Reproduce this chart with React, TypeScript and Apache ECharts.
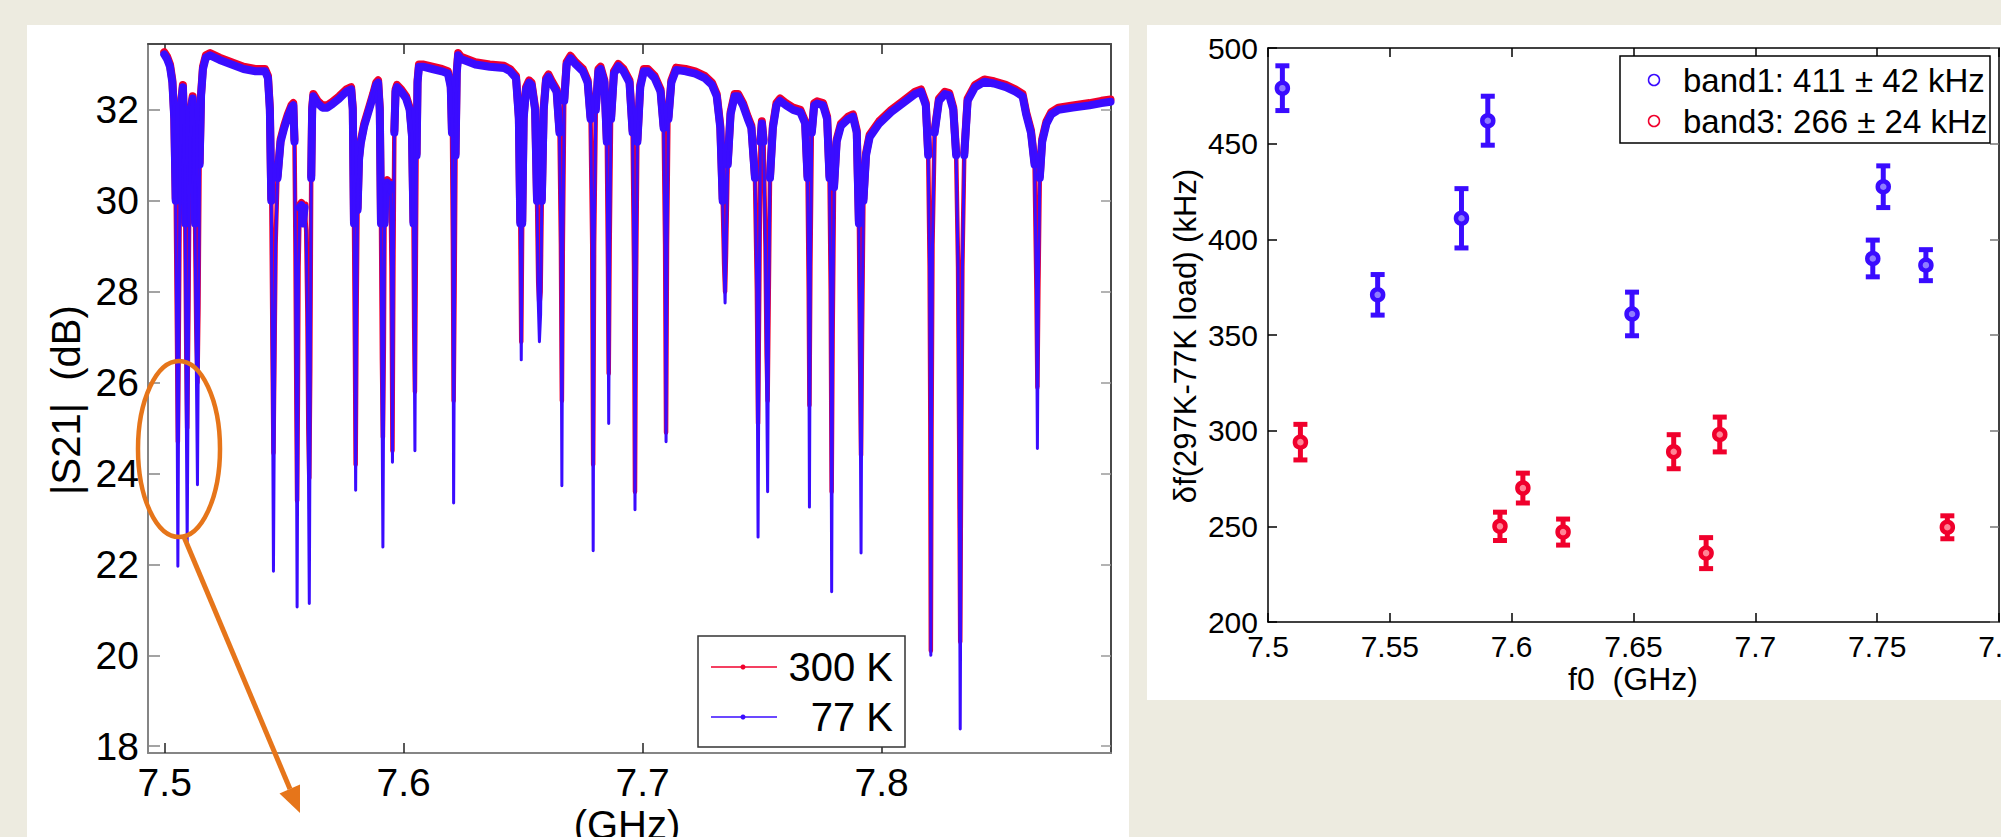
import React, { useEffect, useRef } from "react";
import * as echarts from "echarts";

// ---------------- data ----------------
// |S21| trace at 77 K: [frequency GHz, dB]
const trace77K: [number, number][] = [
  [7.4998, 33.22], [7.5010, 33.12], [7.5022, 32.95], [7.5032, 32.6], [7.5040, 31.8], [7.5046, 30.0], [7.5051, 26.5], [7.5055, 21.96], [7.5059, 26.5], [7.5064, 30.8], [7.5070, 32.2], [7.5076, 32.5],
  [7.5081, 31.6], [7.5086, 29.5], [7.5090, 25.5], [7.5094, 22.5], [7.5098, 26.0], [7.5104, 30.5], [7.5110, 32.0], [7.5117, 32.25],
  [7.5122, 31.6], [7.5127, 29.5], [7.5132, 26.5], [7.5137, 23.75], [7.5141, 27.0], [7.5146, 30.8], [7.5152, 32.3], [7.5160, 32.9], [7.5172, 33.15], [7.5190, 33.2],
  [7.5230, 33.1], [7.5280, 33.0], [7.5330, 32.9], [7.5380, 32.85], [7.5420, 32.85], [7.5432, 32.7], [7.5440, 32.0], [7.5446, 30.0], [7.5451, 26.0], [7.5455, 21.85], [7.5459, 25.5], [7.5464, 29.0], [7.5472, 30.5], [7.5485, 31.3], [7.5500, 31.6], [7.5515, 31.85], [7.5530, 32.05], [7.5538, 32.1],
  [7.5543, 31.3], [7.5547, 29.0], [7.5551, 25.0], [7.5554, 21.06], [7.5557, 25.0], [7.5560, 28.5], [7.5565, 29.85], [7.5572, 29.9], [7.5578, 29.5], [7.5585, 29.85], [7.5592, 29.3], [7.5597, 27.5], [7.5601, 24.5], [7.5605, 21.14], [7.5609, 26.0], [7.5613, 30.5], [7.5617, 32.0], [7.5622, 32.3],
  [7.5640, 32.15], [7.5660, 32.05], [7.5680, 32.05], [7.5700, 32.12], [7.5730, 32.25], [7.5760, 32.4], [7.5780, 32.45],
  [7.5787, 32.0], [7.5792, 29.5], [7.5796, 26.5], [7.5799, 23.63], [7.5803, 27.5], [7.5807, 29.8], [7.5813, 30.9], [7.5820, 31.25], [7.5835, 31.65], [7.5855, 32.0], [7.5872, 32.3], [7.5885, 32.55], [7.5893, 32.6],
  [7.5900, 32.0], [7.5905, 29.5], [7.5909, 26.0], [7.5913, 22.38], [7.5917, 26.5], [7.5920, 29.5], [7.5924, 30.35], [7.5931, 30.4], [7.5938, 30.2], [7.5945, 30.35], [7.5949, 28.5], [7.5953, 24.25], [7.5957, 28.5], [7.5961, 31.5], [7.5966, 32.4], [7.5972, 32.5],
  [7.5990, 32.4], [7.6010, 32.25], [7.6025, 32.0], [7.6035, 31.4], [7.6041, 29.5], [7.6044, 27.0], [7.6047, 24.5], [7.6050, 28.0], [7.6054, 31.0], [7.6058, 32.6], [7.6064, 32.95],
  [7.6080, 32.95], [7.6120, 32.9], [7.6160, 32.85], [7.6185, 32.8], [7.6197, 32.5], [7.6202, 31.5], [7.6206, 29.0], [7.6209, 23.35], [7.6213, 28.0], [7.6217, 31.0], [7.6222, 32.8], [7.6228, 33.2],
  [7.6240, 33.12], [7.6300, 33.0], [7.6360, 32.95], [7.6420, 32.92], [7.6445, 32.85], [7.6470, 32.7], [7.6482, 31.8], [7.6488, 29.5], [7.6492, 26.5], [7.6496, 29.5], [7.6502, 31.8], [7.6512, 32.45], [7.6525, 32.6], [7.6535, 32.55],
  [7.6550, 32.0], [7.6558, 30.0], [7.6563, 27.8], [7.6568, 26.9], [7.6573, 27.5], [7.6578, 30.0], [7.6586, 32.0], [7.6596, 32.65], [7.6606, 32.73], [7.6618, 32.6],
  [7.6640, 32.4], [7.6652, 31.5], [7.6658, 29.0], [7.6662, 23.73], [7.6666, 29.0], [7.6672, 32.2], [7.6682, 33.0], [7.6698, 33.14],
  [7.6720, 33.0], [7.6750, 32.85], [7.6770, 32.6], [7.6782, 31.8], [7.6789, 29.0], [7.6793, 22.3], [7.6797, 29.0], [7.6804, 32.0], [7.6815, 32.85], [7.6824, 32.9],
  [7.6840, 32.6], [7.6850, 31.3], [7.6855, 28.5], [7.6858, 25.1], [7.6862, 29.0], [7.6868, 31.8], [7.6880, 32.8], [7.6898, 32.96],
  [7.6920, 32.85], [7.6945, 32.6], [7.6958, 31.5], [7.6964, 28.5], [7.6968, 23.2], [7.6972, 28.0], [7.6978, 31.3], [7.6990, 32.5], [7.7005, 32.85], [7.7022, 32.85],
  [7.7050, 32.7], [7.7075, 32.4], [7.7088, 31.6], [7.7094, 29.0], [7.7098, 24.7], [7.7102, 29.0], [7.7108, 31.8], [7.7120, 32.6], [7.7140, 32.88],
  [7.7180, 32.85], [7.7220, 32.8], [7.7260, 32.7], [7.7290, 32.55], [7.7310, 32.3], [7.7325, 31.6], [7.7335, 30.0], [7.7341, 28.5], [7.7345, 27.75], [7.7349, 28.8], [7.7356, 30.8], [7.7368, 31.9], [7.7385, 32.3], [7.7400, 32.3],
  [7.7420, 32.1], [7.7440, 31.8], [7.7455, 31.6], [7.7470, 30.5], [7.7478, 28.0], [7.7483, 22.6], [7.7488, 28.0], [7.7493, 31.3], [7.7499, 31.7], [7.7506, 31.3], [7.7514, 29.0], [7.7519, 26.0], [7.7523, 23.6], [7.7527, 27.5], [7.7533, 30.5], [7.7545, 31.6], [7.7560, 32.1], [7.7575, 32.2],
  [7.7600, 32.1], [7.7630, 32.0], [7.7660, 31.95], [7.7680, 31.7], [7.7690, 30.5], [7.7695, 28.0], [7.7698, 23.26], [7.7702, 28.5], [7.7708, 31.5], [7.7718, 32.1], [7.7730, 32.14],
  [7.7755, 32.1], [7.7772, 31.8], [7.7782, 30.5], [7.7787, 28.0], [7.7791, 21.4], [7.7795, 27.0], [7.7801, 30.3], [7.7812, 31.3], [7.7830, 31.65], [7.7860, 31.8], [7.7880, 31.85],
  [7.7896, 31.5], [7.7905, 29.5], [7.7910, 26.0], [7.7914, 22.25], [7.7918, 27.0], [7.7924, 30.0], [7.7935, 31.0], [7.7950, 31.4], [7.7990, 31.7], [7.8040, 31.95], [7.8090, 32.15], [7.8140, 32.35], [7.8165, 32.4],
  [7.8185, 32.1], [7.8195, 31.0], [7.8201, 28.5], [7.8204, 25.0], [7.8206, 20.0], [7.8209, 25.0], [7.8213, 29.0], [7.8222, 31.5], [7.8240, 32.2], [7.8265, 32.35], [7.8283, 32.32],
  [7.8300, 32.0], [7.8312, 31.0], [7.8320, 28.5], [7.8325, 24.0], [7.8329, 18.38], [7.8333, 24.0], [7.8338, 28.5], [7.8346, 31.0], [7.8360, 32.2], [7.8391, 32.5], [7.8430, 32.62], [7.8470, 32.58], [7.8520, 32.5], [7.8560, 32.4], [7.8590, 32.3],
  [7.8605, 31.9], [7.8625, 31.5], [7.8640, 30.8], [7.8648, 28.0], [7.8652, 24.55], [7.8656, 28.0], [7.8662, 30.5], [7.8672, 31.3], [7.8690, 31.7], [7.8710, 31.9], [7.8740, 32.0], [7.8800, 32.05], [7.8870, 32.1], [7.8920, 32.15], [7.8958, 32.18],
];

// |S21| trace at 300 K: [frequency GHz, dB]
const trace300K: [number, number][] = [
  [7.4998, 33.27], [7.5010, 33.17], [7.5022, 33.0], [7.5032, 32.65], [7.5040, 31.85], [7.5046, 30.05], [7.5051, 27.2], [7.5055, 24.7], [7.5059, 27.2], [7.5064, 30.85], [7.5070, 32.25], [7.5076, 32.55],
  [7.5081, 31.65], [7.5086, 29.55], [7.5090, 26.8], [7.5094, 25.0], [7.5098, 27.0], [7.5104, 30.55], [7.5110, 32.05], [7.5117, 32.3],
  [7.5122, 31.65], [7.5127, 29.55], [7.5132, 27.2], [7.5137, 26.0], [7.5141, 27.6], [7.5146, 30.85], [7.5152, 32.35], [7.5160, 32.95], [7.5172, 33.2], [7.5190, 33.25],
  [7.5230, 33.15], [7.5280, 33.05], [7.5330, 32.95], [7.5380, 32.9], [7.5420, 32.9], [7.5432, 32.75], [7.5440, 32.05], [7.5446, 30.05], [7.5451, 26.8], [7.5455, 24.45], [7.5459, 26.5], [7.5464, 29.05], [7.5472, 30.55], [7.5485, 31.35], [7.5500, 31.65], [7.5515, 31.9], [7.5530, 32.1], [7.5538, 32.15],
  [7.5543, 31.35], [7.5547, 29.05], [7.5551, 25.5], [7.5554, 23.4], [7.5557, 25.5], [7.5560, 28.55], [7.5565, 29.9], [7.5572, 29.95], [7.5578, 29.55], [7.5585, 29.9], [7.5592, 29.35], [7.5597, 27.55], [7.5601, 25.0], [7.5605, 23.9], [7.5609, 26.3], [7.5613, 30.55], [7.5617, 32.05], [7.5622, 32.35],
  [7.5640, 32.2], [7.5660, 32.1], [7.5680, 32.1], [7.5700, 32.17], [7.5730, 32.3], [7.5760, 32.45], [7.5780, 32.5],
  [7.5787, 32.05], [7.5792, 29.55], [7.5796, 26.8], [7.5799, 24.2], [7.5803, 27.6], [7.5807, 29.85], [7.5813, 30.95], [7.5820, 31.3], [7.5835, 31.7], [7.5855, 32.05], [7.5872, 32.35], [7.5885, 32.6], [7.5893, 32.65],
  [7.5900, 32.05], [7.5905, 29.55], [7.5909, 26.5], [7.5913, 24.8], [7.5917, 26.8], [7.5920, 29.55], [7.5924, 30.4], [7.5931, 30.45], [7.5938, 30.25], [7.5945, 30.4], [7.5949, 28.55], [7.5953, 24.5], [7.5957, 28.55], [7.5961, 31.55], [7.5966, 32.45], [7.5972, 32.55],
  [7.5990, 32.45], [7.6010, 32.3], [7.6025, 32.05], [7.6035, 31.45], [7.6041, 29.55], [7.6044, 27.2], [7.6047, 25.8], [7.6050, 28.05], [7.6054, 31.05], [7.6058, 32.65], [7.6064, 33.0],
  [7.6080, 33.0], [7.6120, 32.95], [7.6160, 32.9], [7.6185, 32.85], [7.6197, 32.55], [7.6202, 31.55], [7.6206, 29.05], [7.6209, 25.6], [7.6213, 28.05], [7.6217, 31.05], [7.6222, 32.85], [7.6228, 33.25],
  [7.6240, 33.17], [7.6300, 33.05], [7.6360, 33.0], [7.6420, 32.97], [7.6445, 32.9], [7.6470, 32.75], [7.6482, 31.85], [7.6488, 29.55], [7.6492, 26.9], [7.6496, 29.55], [7.6502, 31.85], [7.6512, 32.5], [7.6525, 32.65], [7.6535, 32.6],
  [7.6550, 32.05], [7.6558, 30.05], [7.6563, 28.2], [7.6568, 27.7], [7.6573, 28.0], [7.6578, 30.05], [7.6586, 32.05], [7.6596, 32.7], [7.6606, 32.78], [7.6618, 32.65],
  [7.6640, 32.45], [7.6652, 31.55], [7.6658, 29.05], [7.6662, 25.6], [7.6666, 29.05], [7.6672, 32.25], [7.6682, 33.05], [7.6698, 33.19],
  [7.6720, 33.05], [7.6750, 32.9], [7.6770, 32.65], [7.6782, 31.85], [7.6789, 29.05], [7.6793, 24.2], [7.6797, 29.05], [7.6804, 32.05], [7.6815, 32.9], [7.6824, 32.95],
  [7.6840, 32.65], [7.6850, 31.35], [7.6855, 28.55], [7.6858, 26.2], [7.6862, 29.05], [7.6868, 31.85], [7.6880, 32.85], [7.6898, 33.01],
  [7.6920, 32.9], [7.6945, 32.65], [7.6958, 31.55], [7.6964, 28.55], [7.6968, 23.6], [7.6972, 28.05], [7.6978, 31.35], [7.6990, 32.55], [7.7005, 32.9], [7.7022, 32.9],
  [7.7050, 32.75], [7.7075, 32.45], [7.7088, 31.65], [7.7094, 29.05], [7.7098, 24.9], [7.7102, 29.05], [7.7108, 31.85], [7.7120, 32.65], [7.7140, 32.93],
  [7.7180, 32.9], [7.7220, 32.85], [7.7260, 32.75], [7.7290, 32.6], [7.7310, 32.35], [7.7325, 31.65], [7.7335, 30.05], [7.7341, 28.6], [7.7345, 28.0], [7.7349, 28.85], [7.7356, 30.85], [7.7368, 31.95], [7.7385, 32.35], [7.7400, 32.35],
  [7.7420, 32.15], [7.7440, 31.85], [7.7455, 31.65], [7.7470, 30.55], [7.7478, 28.05], [7.7483, 25.1], [7.7488, 28.05], [7.7493, 31.35], [7.7499, 31.75], [7.7506, 31.35], [7.7514, 29.05], [7.7519, 26.6], [7.7523, 25.6], [7.7527, 27.6], [7.7533, 30.55], [7.7545, 31.65], [7.7560, 32.15], [7.7575, 32.25],
  [7.7600, 32.15], [7.7630, 32.05], [7.7660, 32.0], [7.7680, 31.75], [7.7690, 30.55], [7.7695, 28.05], [7.7698, 25.5], [7.7702, 28.55], [7.7708, 31.55], [7.7718, 32.15], [7.7730, 32.19],
  [7.7755, 32.15], [7.7772, 31.85], [7.7782, 30.55], [7.7787, 28.05], [7.7791, 23.6], [7.7795, 27.05], [7.7801, 30.35], [7.7812, 31.35], [7.7830, 31.7], [7.7860, 31.85], [7.7880, 31.9],
  [7.7896, 31.55], [7.7905, 29.55], [7.7910, 26.5], [7.7914, 24.4], [7.7918, 27.05], [7.7924, 30.05], [7.7935, 31.05], [7.7950, 31.45], [7.7990, 31.75], [7.8040, 32.0], [7.8090, 32.2], [7.8140, 32.4], [7.8165, 32.45],
  [7.8185, 32.15], [7.8195, 31.05], [7.8201, 28.55], [7.8204, 25.05], [7.8206, 20.1], [7.8209, 25.05], [7.8213, 29.05], [7.8222, 31.55], [7.8240, 32.25], [7.8265, 32.4], [7.8283, 32.37],
  [7.8300, 32.05], [7.8312, 31.05], [7.8320, 28.55], [7.8325, 24.5], [7.8329, 20.3], [7.8333, 24.5], [7.8338, 28.55], [7.8346, 31.05], [7.8360, 32.25], [7.8391, 32.55], [7.8430, 32.67], [7.8470, 32.63], [7.8520, 32.55], [7.8560, 32.45], [7.8590, 32.35],
  [7.8605, 31.95], [7.8625, 31.55], [7.8640, 30.85], [7.8648, 28.05], [7.8652, 25.9], [7.8656, 28.05], [7.8662, 30.55], [7.8672, 31.35], [7.8690, 31.75], [7.8710, 31.95], [7.8740, 32.05], [7.8800, 32.1], [7.8870, 32.15], [7.8920, 32.2], [7.8958, 32.23],
];

const leftXTicks = [7.5, 7.6, 7.7, 7.8];
const leftYTicks = [18, 20, 22, 24, 26, 28, 30, 32];
// level above which the sweep is densely sampled (drawn as a thick band)
const denseLevel = 29.5;

// band1 resonators: f0 (GHz), shift (kHz), error (kHz)
const band1F0 = [7.5059, 7.545, 7.5794, 7.5902, 7.6494, 7.7482, 7.7525, 7.77];
const band1Shift = [479, 371, 411, 462, 361, 390, 427.5, 386.5];
const band1Err = [11.7, 10.6, 15.5, 12.8, 11.4, 9.6, 10.9, 8.1];
// band3 resonators
const band3F0 = [7.5133, 7.5952, 7.6046, 7.6211, 7.6665, 7.6798, 7.6854, 7.7788];
const band3Shift = [294, 250, 270, 247, 289, 236, 298, 249.5];
const band3Err = [9.3, 7.4, 7.8, 6.8, 8.9, 8.1, 9.1, 6.0];

const legendLeft = ["300 K", "77 K"];
const band1Label = "band1: 411 \u00B1 42 kHz";
const band3Label = "band3: 266 \u00B1 24 kHz";

// ---------------- styles ----------------
const FONT = "'Liberation Sans', Arial, Helvetica, sans-serif";
const BLUE = "#3a0cff";
const BLUE_FILL = "#8f7cff";
const RED = "#f0002c";
const RED_FILL = "#ff8496";
const ORANGE = "#e6751a";

const denseOnly = (rows: [number, number][]) =>
  rows.map(([f, d]) => [f, d >= denseLevel ? d : null]);

function errorBarSeries(name: string, f: number[], v: number[], e: number[], color: string) {
  return {
    type: "custom",
    name,
    xAxisIndex: 2,
    yAxisIndex: 2,
    z: 4,
    data: f.map((x, i) => [x, v[i], e[i]]),
    encode: { x: 0, y: 1 },
    renderItem: (params: any, api: any) => {
      const x = api.value(0);
      const y = api.value(1);
      const err = api.value(2);
      const top = api.coord([x, y + err]);
      const bot = api.coord([x, y - err]);
      const hw = 7;
      const style = { stroke: color, lineWidth: 5 };
      return {
        type: "group",
        children: [
          { type: "line", shape: { x1: top[0], y1: top[1], x2: bot[0], y2: bot[1] }, style },
          { type: "line", shape: { x1: top[0] - hw, y1: top[1], x2: top[0] + hw, y2: top[1] }, style },
          { type: "line", shape: { x1: bot[0] - hw, y1: bot[1], x2: bot[0] + hw, y2: bot[1] }, style },
        ],
      };
    },
  };
}

function pointSeries(name: string, f: number[], v: number[], color: string, fill: string) {
  return {
    type: "scatter",
    name,
    xAxisIndex: 2,
    yAxisIndex: 2,
    z: 5,
    symbol: "circle",
    symbolSize: 11,
    data: f.map((x, i) => [x, v[i]]),
    itemStyle: { color: fill, borderColor: color, borderWidth: 4.5, opacity: 1 },
  };
}

export default function App() {
  const ref = useRef<HTMLDivElement>(null);

  useEffect(() => {
    if (!ref.current) return;
    const chart = echarts.init(ref.current, undefined, { renderer: "svg" });

    const leftAxisLine = { show: true, onZero: false, lineStyle: { color: "#858585", width: 2 } };
    const leftBoxLine = { show: true, onZero: false, lineStyle: { color: "#4a4a4a", width: 2 } };
    const rightAxisLine = { show: true, onZero: false, lineStyle: { color: "#000", width: 1.5 } };

    const traceLine = (name: string, data: any[], color: string, width: number, z: number) => ({
      type: "line", name, xAxisIndex: 0, yAxisIndex: 0, data,
      showSymbol: false, symbol: "none", z, connectNulls: false,
      lineStyle: { color, width, join: "round", cap: "round" },
    });

    const option: any = {
      animation: false,
      backgroundColor: "transparent",
      textStyle: { fontFamily: FONT },
      grid: [
        { left: 148, top: 44, width: 963, height: 709, outerBoundsMode: "none", containLabel: false },
        { left: 1268, top: 48, width: 731, height: 574, outerBoundsMode: "none", containLabel: false },
      ],
      xAxis: [
        {
          gridIndex: 0, type: "value", position: "bottom", min: 7.493, max: 7.896,
          axisLine: leftAxisLine,
          axisTick: { show: true, inside: true, length: 10, customValues: leftXTicks, lineStyle: { color: "#222", width: 1.5 } },
          axisLabel: { customValues: leftXTicks, fontSize: 39, color: "#000", margin: 10, fontFamily: FONT, formatter: (v: number) => v.toFixed(1) },
          splitLine: { show: false },
        },
        {
          gridIndex: 0, type: "value", position: "top", min: 7.493, max: 7.896,
          axisLine: leftBoxLine,
          axisTick: { show: true, inside: true, length: 10, customValues: leftXTicks, lineStyle: { color: "#222", width: 1.5 } },
          axisLabel: { show: false },
          splitLine: { show: false },
        },
        {
          gridIndex: 1, type: "value", position: "bottom", min: 7.5, max: 7.8, interval: 0.05,
          axisLine: rightAxisLine,
          axisTick: { show: true, inside: true, length: 9, lineStyle: { color: "#000", width: 1.5 } },
          axisLabel: { fontSize: 30, color: "#000", margin: 9, fontFamily: FONT, showMaxLabel: true, formatter: (v: number) => String(+v.toFixed(2)) },
          splitLine: { show: false },
        },
        {
          gridIndex: 1, type: "value", position: "top", min: 7.5, max: 7.8, interval: 0.05,
          axisLine: rightAxisLine,
          axisTick: { show: true, inside: true, length: 9, lineStyle: { color: "#000", width: 1.5 } },
          axisLabel: { show: false },
          splitLine: { show: false },
        },
      ],
      yAxis: [
        {
          gridIndex: 0, type: "value", position: "left", min: 17.85, max: 33.45,
          axisLine: leftAxisLine,
          axisTick: { show: true, inside: true, length: 12, customValues: leftYTicks, lineStyle: { color: "#858585", width: 1.5 } },
          axisLabel: { customValues: leftYTicks, fontSize: 39, color: "#000", margin: 9, fontFamily: FONT },
          splitLine: { show: false },
        },
        {
          gridIndex: 0, type: "value", position: "right", min: 17.85, max: 33.45,
          axisLine: leftBoxLine,
          axisTick: { show: true, inside: true, length: 10, customValues: leftYTicks, lineStyle: { color: "#9a9a9a", width: 1.5 } },
          axisLabel: { show: false },
          splitLine: { show: false },
        },
        {
          gridIndex: 1, type: "value", position: "left", min: 200, max: 500, interval: 50,
          axisLine: rightAxisLine,
          axisTick: { show: true, inside: true, length: 9, lineStyle: { color: "#000", width: 1.5 } },
          axisLabel: { fontSize: 30, color: "#000", margin: 10, fontFamily: FONT },
          splitLine: { show: false },
        },
        {
          gridIndex: 1, type: "value", position: "right", min: 200, max: 500, interval: 50,
          axisLine: rightAxisLine,
          axisTick: { show: true, inside: true, length: 9, lineStyle: { color: "#777", width: 1.5 } },
          axisLabel: { show: false },
          splitLine: { show: false },
        },
      ],
      series: [
        traceLine(legendLeft[0] + " band", denseOnly(trace300K), RED, 8, 1),
        traceLine(legendLeft[0], trace300K, RED, 4.5, 2),
        traceLine(legendLeft[1] + " band", denseOnly(trace77K), BLUE, 8, 3),
        traceLine(legendLeft[1], trace77K, BLUE, 3, 4),
        errorBarSeries("band1 err", band1F0, band1Shift, band1Err, BLUE),
        errorBarSeries("band3 err", band3F0, band3Shift, band3Err, RED),
        pointSeries("band1", band1F0, band1Shift, BLUE, BLUE_FILL),
        pointSeries("band3", band3F0, band3Shift, RED, RED_FILL),
      ],
      graphic: [
        // orange annotation
        { type: "ellipse", z: 100, shape: { cx: 179, cy: 449, rx: 41, ry: 88 }, style: { fill: "none", stroke: ORANGE, lineWidth: 4.5 } },
        { type: "line", z: 100, shape: { x1: 184, y1: 537, x2: 290, y2: 789 }, style: { stroke: ORANGE, lineWidth: 5 } },
        { type: "polygon", z: 100, shape: { points: [[300, 813], [279.5, 793.5], [300, 784.5]] }, style: { fill: ORANGE } },
        // left legend
        { type: "rect", z: 50, shape: { x: 698, y: 636, width: 207, height: 111 }, style: { fill: "#fff", stroke: "#333", lineWidth: 1.5 } },
        { type: "line", z: 51, shape: { x1: 711, y1: 667, x2: 777, y2: 667 }, style: { stroke: RED, lineWidth: 1.5 } },
        { type: "circle", z: 51, shape: { cx: 743, cy: 667, r: 2.5 }, style: { fill: RED } },
        { type: "text", z: 51, x: 893, y: 667, style: { text: legendLeft[0], fontSize: 40, fontFamily: FONT, fill: "#000", align: "right", verticalAlign: "middle" } },
        { type: "line", z: 51, shape: { x1: 711, y1: 717, x2: 777, y2: 717 }, style: { stroke: BLUE, lineWidth: 1.5 } },
        { type: "circle", z: 51, shape: { cx: 743, cy: 717, r: 2.5 }, style: { fill: BLUE } },
        { type: "text", z: 51, x: 893, y: 717, style: { text: legendLeft[1], fontSize: 40, fontFamily: FONT, fill: "#000", align: "right", verticalAlign: "middle" } },
        // right legend
        { type: "rect", z: 50, shape: { x: 1620, y: 56, width: 370, height: 87 }, style: { fill: "#fff", stroke: "#000", lineWidth: 1.5 } },
        { type: "circle", z: 51, shape: { cx: 1654, cy: 80, r: 5.5 }, style: { fill: "none", stroke: BLUE, lineWidth: 1.5 } },
        { type: "text", z: 51, x: 1683, y: 80, style: { text: band1Label, fontSize: 33, fontFamily: FONT, fill: "#000", align: "left", verticalAlign: "middle" } },
        { type: "circle", z: 51, shape: { cx: 1654, cy: 121, r: 5.5 }, style: { fill: "none", stroke: RED, lineWidth: 1.5 } },
        { type: "text", z: 51, x: 1683, y: 121, style: { text: band3Label, fontSize: 33, fontFamily: FONT, fill: "#000", align: "left", verticalAlign: "middle" } },
        // axis titles
        { type: "text", z: 20, x: 66, y: 400, rotation: Math.PI / 2, style: { text: "|S21|  (dB)", fontSize: 40, fontFamily: FONT, fill: "#000", align: "center", verticalAlign: "middle" } },
        { type: "text", z: 20, x: 627, y: 825, style: { text: "(GHz)", fontSize: 40, fontFamily: FONT, fill: "#000", align: "center", verticalAlign: "middle" } },
        { type: "text", z: 20, x: 1185, y: 336, rotation: Math.PI / 2, style: { text: "\u03B4f(297K-77K load) (kHz)", fontSize: 31, fontFamily: FONT, fill: "#000", align: "center", verticalAlign: "middle" } },
        { type: "text", z: 20, x: 1633, y: 679, style: { text: "f0  (GHz)", fontSize: 32, fontFamily: FONT, fill: "#000", align: "center", verticalAlign: "middle" } },
      ],
    };

    chart.setOption(option);
    return () => chart.dispose();
  }, []);

  return (
    <div style={{ position: "fixed", left: 0, top: 0, width: 2001, height: 837, background: "#edebe0", overflow: "hidden" }}>
      <div style={{ position: "absolute", left: 27, top: 25, width: 1102, height: 812, background: "#fff" }} />
      <div style={{ position: "absolute", left: 1147, top: 25, width: 854, height: 675, background: "#fff" }} />
      <div ref={ref} style={{ position: "absolute", left: 0, top: 0, width: 2001, height: 837 }} />
    </div>
  );
}
